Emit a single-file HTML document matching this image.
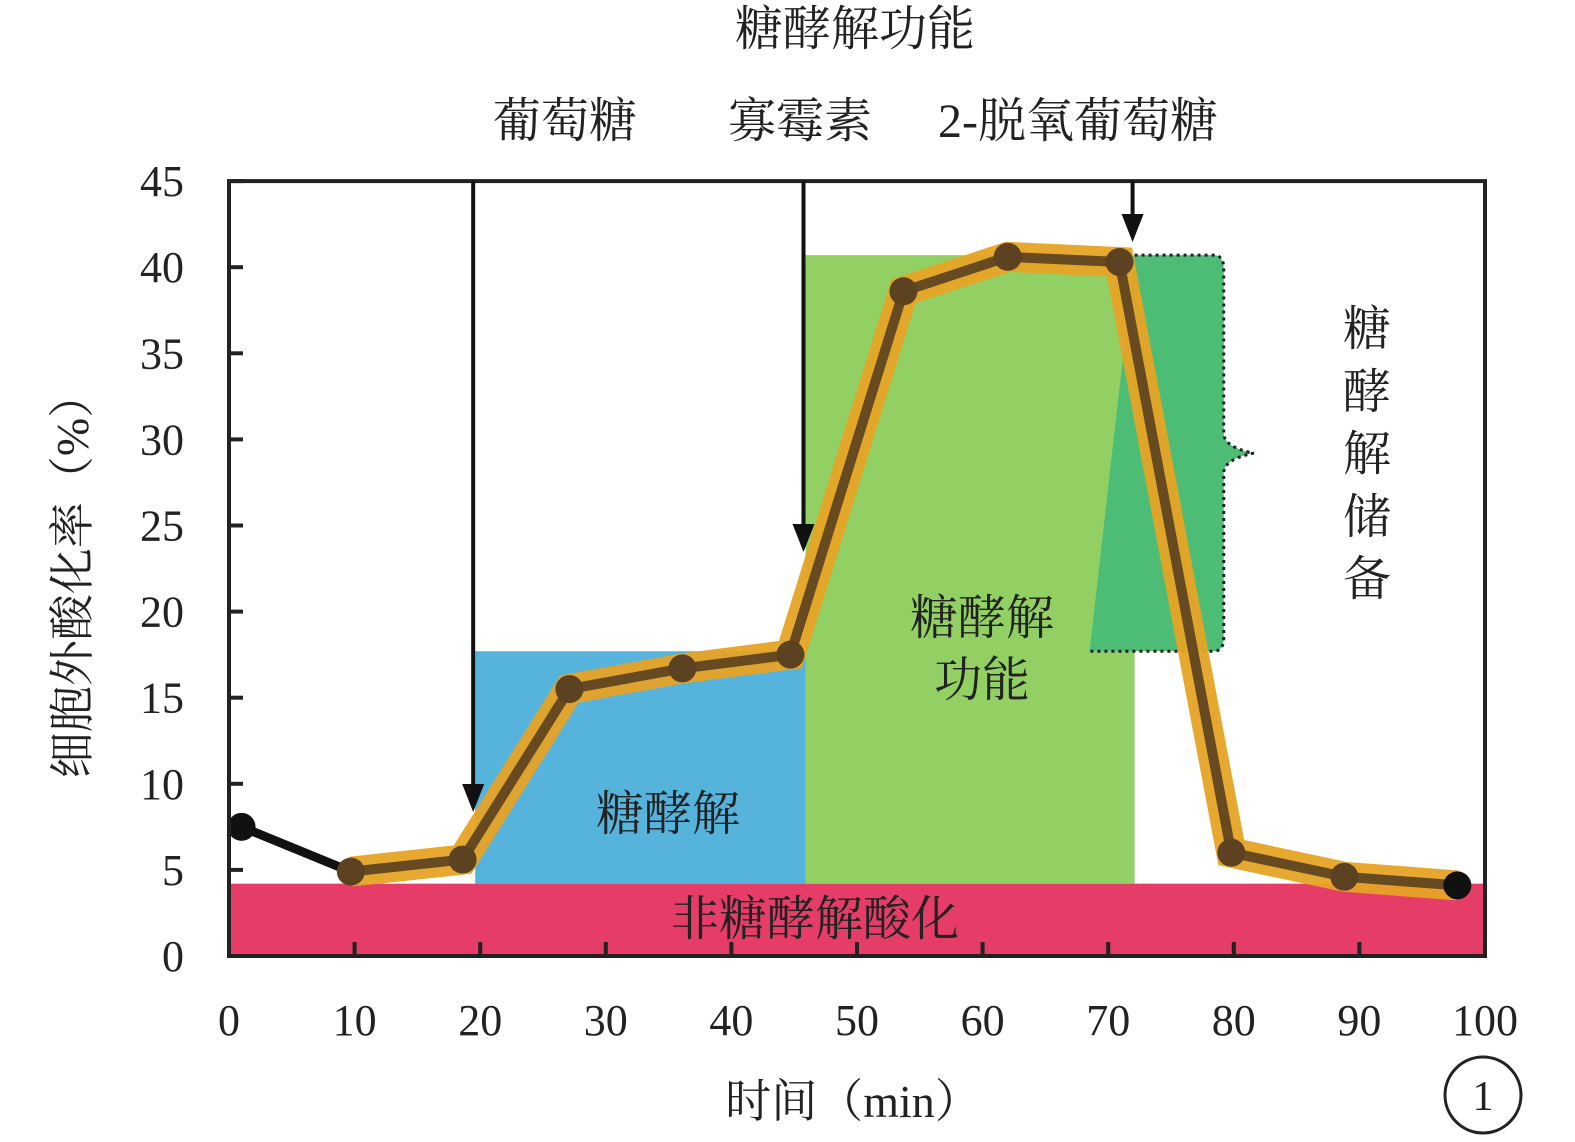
<!DOCTYPE html>
<html><head><meta charset="utf-8"><style>
html,body{margin:0;padding:0;background:#fff;width:1575px;height:1142px;overflow:hidden}
svg text{font-family:"Liberation Serif","Noto Serif CJK SC","Noto Sans CJK SC",serif;fill:#222}
</style></head><body>
<svg id="chart" width="1575" height="1142" viewBox="0 0 1575 1142" xmlns="http://www.w3.org/2000/svg">
<g id="regions"></g>
<g id="series"></g>
<g id="axes"></g>
<g id="annot"></g>
</svg>
<script>
const xTicks=[0,10,20,30,40,50,60,70,80,90,100];
const yTicks=[0,5,10,15,20,25,30,35,40,45];
const times=[1,9.7,18.6,27.1,36.1,44.7,53.7,62,70.9,79.8,88.8,97.8];
const ecar=[7.5,4.9,5.6,15.5,16.7,17.5,38.6,40.6,40.3,6,4.6,4.1];
const basal=4.2, glycoMax=17.7, capMax=40.7;
const glucoseT=19.6, oligoT=45.9, dgT=72.1, braceEnd=79.2;
const X=v=>229+v*12.56, Y=v=>956-v*17.22;
const NS="http://www.w3.org/2000/svg";
function mk(tag,attrs,parent,txt){const e=document.createElementNS(NS,tag);for(const k in attrs)e.setAttribute(k,attrs[k]);if(txt!==undefined)e.textContent=txt;document.getElementById(parent).appendChild(e);return e;}
// regions
let r;
r=mk('rect',{x:X(glucoseT),y:Y(glycoMax),width:X(oligoT)-X(glucoseT),height:Y(basal)-Y(glycoMax),fill:'#56b4dc'},'regions');


r=mk('rect',{x:X(oligoT),y:Y(capMax),width:X(dgT)-X(oligoT),height:Y(basal)-Y(capMax),fill:'#93d064'},'regions');


const bx=X(dgT),bw=X(braceEnd)-X(dgT),by0=Y(capMax),by1=Y(glycoMax),bm=(by0+by1)/2;
r=mk('path',{d:`M${bx} ${by0} H${bx+bw-10} Q${bx+bw} ${by0} ${bx+bw} ${by0+14} V${bm-20} Q${bx+bw} ${bm-6} ${bx+bw+30} ${bm} Q${bx+bw} ${bm+6} ${bx+bw} ${bm+20} V${by1-14} Q${bx+bw} ${by1} ${bx+bw-10} ${by1} H${bx-45}`,fill:'#4dbd75',stroke:'#222','stroke-width':3,'stroke-dasharray':'3 4'},'regions');


r=mk('rect',{x:X(0),y:Y(basal),width:X(100)-X(0),height:Y(0)-Y(basal),fill:'#e53d68'},'regions');


// series
const pts=times.map((t,i)=>X(t)+','+Y(ecar[i])).join(' ');
const ptsO=times.slice(1).map((t,i)=>X(t)+','+Y(ecar[i+1])).join(' ');
r=mk('polyline',{points:pts,fill:'none',stroke:'#111','stroke-width':9,'stroke-linejoin':'round'},'series');


r=mk('polyline',{points:ptsO,fill:'none',stroke:'#e6a325','stroke-width':30,'stroke-linejoin':'miter','stroke-opacity':0.95},'series');


r=mk('polyline',{points:ptsO,fill:'none',stroke:'#674a1f','stroke-width':10,'stroke-linejoin':'round'},'series');


times.forEach((t,i)=>{const c=mk('circle',{cx:X(t),cy:Y(ecar[i]),r:14,fill:i==0||i==11?'#111':'#5c4220'},'series');

});
// axes
r=mk('rect',{x:X(0),y:Y(45),width:X(100)-X(0),height:Y(0)-Y(45),fill:'none',stroke:'#222','stroke-width':4},'axes');


xTicks.forEach(v=>{const l=mk('line',{x1:X(v),x2:X(v),y1:Y(0),y2:Y(0)-14,stroke:'#222','stroke-width':4},'axes');


const t=mk('text',{x:X(v),y:1035,'text-anchor':'middle','font-size':44},'axes',String(v));

});
yTicks.forEach(v=>{const l=mk('line',{x1:X(0),x2:X(0)+14,y1:Y(v),y2:Y(v),stroke:'#222','stroke-width':4},'axes');


const t=mk('text',{x:184,y:Y(v)+15,'text-anchor':'end','font-size':44},'axes',String(v));

});
// arrows
[[glucoseT,812],[oligoT,552],[dgT,242]].forEach(a=>{const x=X(a[0])-2;
const l=mk('line',{x1:x,x2:x,y1:Y(45),y2:a[1]-20,stroke:'#111','stroke-width':4},'annot');


const p=mk('polygon',{points:`${x-11},${a[1]-28} ${x+11},${a[1]-28} ${x},${a[1]}`,fill:'#111'},'annot');

});
</script>
<svg style="position:absolute;left:0;top:0" width="1575" height="1142">
<text x="855" y="45" text-anchor="middle" font-size="48">糖酵解功能</text>
<text x="565" y="137" text-anchor="middle" font-size="48">葡萄糖</text>
<text x="800" y="137" text-anchor="middle" font-size="48">寡霉素</text>
<text x="1078" y="137" text-anchor="middle" font-size="48">2-脱氧葡萄糖</text>
<text x="668" y="830" text-anchor="middle" font-size="48">糖酵解</text>
<text x="982" y="634" text-anchor="middle" font-size="48">糖酵解</text>
<text x="982" y="696" text-anchor="middle" font-size="48">功能</text>
<text x="815" y="935" text-anchor="middle" font-size="48">非糖酵解酸化</text>
<g font-size="48">
<text x="1367" y="345" text-anchor="middle">糖</text><text x="1367" y="408" text-anchor="middle">酵</text><text x="1367" y="470" text-anchor="middle">解</text><text x="1367" y="533" text-anchor="middle">储</text><text x="1367" y="595" text-anchor="middle">备</text></g>
<text x="853" y="1117" text-anchor="middle" font-size="46">时间（min）</text>
<text transform="translate(88,575) rotate(-90)" text-anchor="middle" font-size="46">细胞外酸化率（%）</text>
<circle cx="1483" cy="1095" r="38" fill="none" stroke="#222" stroke-width="3"/>
<text x="1483" y="1110" text-anchor="middle" font-size="42">1</text>
</svg>
</body></html>
